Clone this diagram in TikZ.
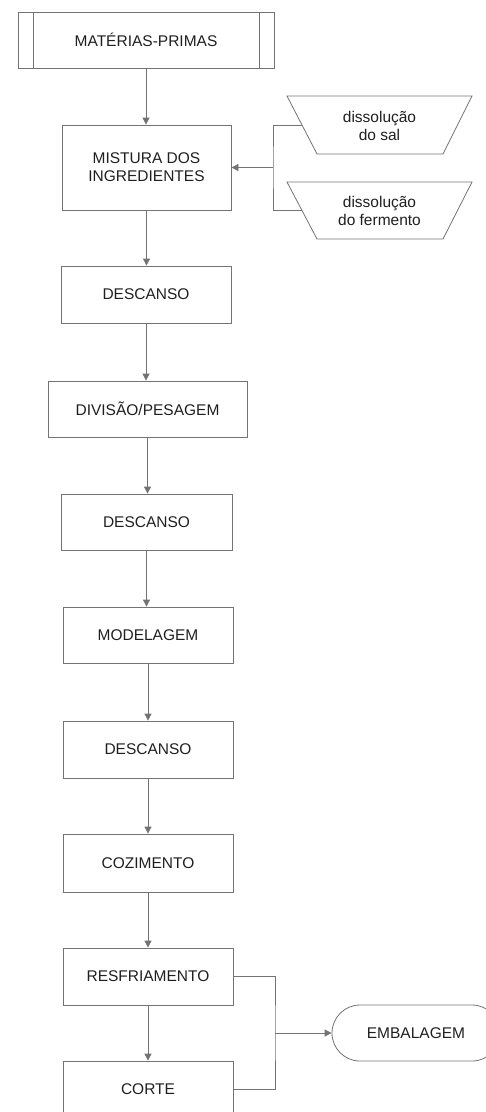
\documentclass[tikz,border=0pt]{standalone}
\usepackage{fontspec}
\setmainfont{Liberation Sans}
\usetikzlibrary{arrows.meta,calc}
\definecolor{linegray}{gray}{0.45}
\definecolor{textgray}{gray}{0.12}
\begin{document}
\begin{tikzpicture}[x=1pt,y=-1pt,
  font=\fontsize{15.5}{18}\selectfont,
  every node/.style={text=textgray, align=center, inner sep=0pt},
  box/.style={draw=linegray, line width=0.8pt, minimum height=56pt},
  arr/.style={draw=linegray, line width=0.8pt, -{Triangle[width=7pt,length=7pt]}},
  ln/.style={draw=linegray, line width=0.8pt}]
\useasboundingbox (0,0) rectangle (485,1112);
% nodes
\node[box, minimum width=256pt] (mp) at (146,40) {MATÉRIAS-PRIMAS};
\draw[ln] (33,12) -- (33,68);
\draw[ln] (259,12) -- (259,68);
\node[box, minimum width=169pt, minimum height=85pt] (mis) at (146.5,167.5) {MISTURA DOS\\INGREDIENTES};
\node[box, minimum width=170pt, minimum height=57pt] (d1) at (146,294.5) {DESCANSO};
\node[box, minimum width=199pt] (div) at (147.5,409) {DIVISÃO/PESAGEM};
\node[box, minimum width=171pt] (d2) at (146.5,522) {DESCANSO};
\node[box, minimum width=170pt] (mod) at (148,635) {MODELAGEM};
\node[box, minimum width=170pt, minimum height=57pt] (d3) at (148,749.5) {DESCANSO};
\node[box, minimum width=170pt, minimum height=58pt] (coz) at (148,863) {COZIMENTO};
\node[box, minimum width=170pt, minimum height=57pt] (res) at (148,976.5) {RESFRIAMENTO};
\node[box, minimum width=170pt] (cor) at (148,1089) {CORTE};
\node[draw=linegray, line width=0.8pt, rounded corners=28pt, minimum width=168pt, minimum height=56pt] (emb) at (416,1033) {EMBALAGEM};
% trapezoids
\node (sal) at (379.5,126) {dissolução\\do sal};
\draw[ln] (287,96) -- (472,96) -- (443,154) -- (317,154) -- cycle;
\node (fer) at (379.5,211) {dissolução\\do fermento};
\draw[ln] (287,182) -- (472,182) -- (443,239) -- (317,239) -- cycle;
\coordinate (salin) at (302,125);
\coordinate (ferin) at (301.5,210);
\coordinate (j1) at (273,167.5);
\coordinate (j2) at (275,1033);
% connectors
\draw[arr] (mp.south) -- (mp.south |- mis.north);
\draw[arr] (mis.south) -- (mis.south |- d1.north);
\draw[arr] (d1.south) -- (d1.south |- div.north);
\draw[arr] (div.south) -- (div.south |- d2.north);
\draw[arr] (d2.south) -- (d2.south |- mod.north);
\draw[arr] (mod.south) -- (mod.south |- d3.north);
\draw[arr] (d3.south) -- (d3.south |- coz.north);
\draw[arr] (coz.south) -- (coz.south |- res.north);
\draw[arr] (res.south) -- (res.south |- cor.north);
\draw[ln] (salin) -| (j1) |- (ferin);
\draw[arr] (j1) -- (mis.east);
\draw[ln] (res.east) -| (j2) |- (cor.east);
\draw[arr] (j2) -- (emb.west);
\end{tikzpicture}
\end{document}
